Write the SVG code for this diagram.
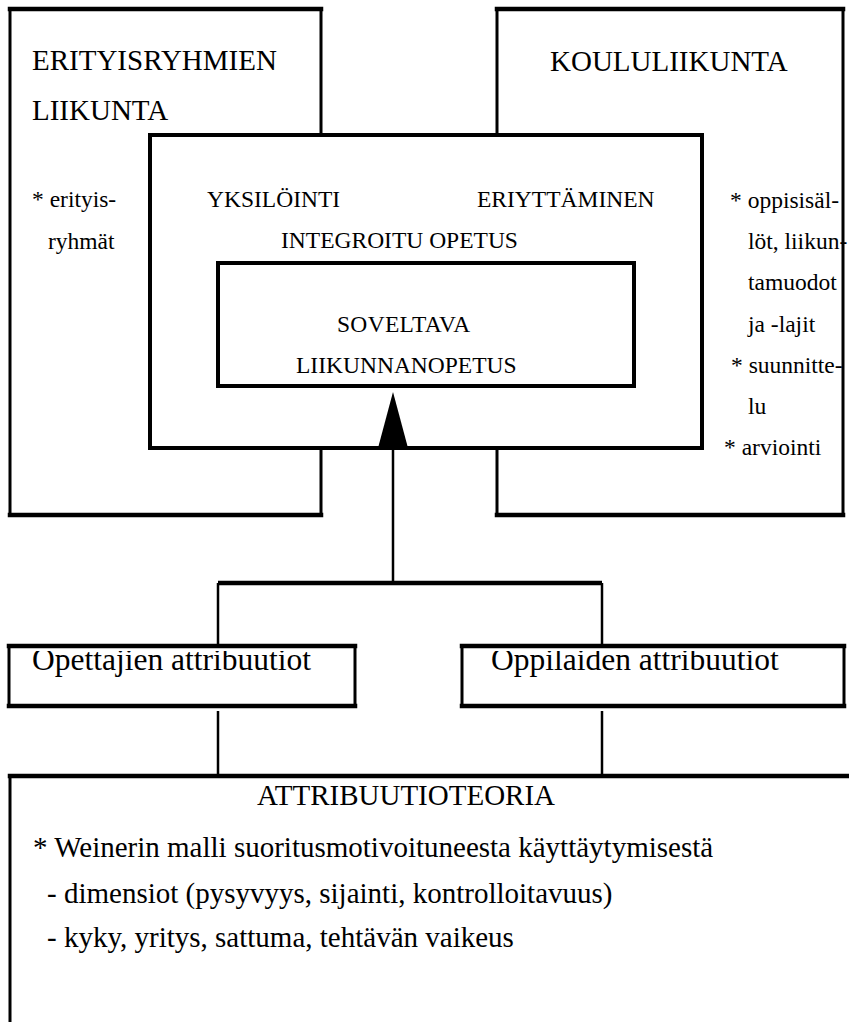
<svg xmlns="http://www.w3.org/2000/svg" width="849" height="1022" viewBox="0 0 849 1022">
<style>
.t{font-family:"Liberation Serif","Times New Roman",serif;fill:#000}
.big{font-size:29px}
.mid{font-size:23.5px}
.att{font-size:31.5px}
.fill{fill:#fff;stroke:none}
.h{stroke:#000;stroke-width:4.5;fill:none;stroke-linecap:square}
.v{stroke:#000;stroke-width:3;fill:none;stroke-linecap:square}
.bx{fill:#fff;stroke:#000;stroke-width:4}
.ln{stroke:#000;stroke-width:2.5;fill:none}
.bar{stroke:#000;stroke-width:4.5;fill:none}
</style>
<defs>
<clipPath id="c1"><rect x="0" y="651" width="849" height="60"/></clipPath>
</defs>
<rect width="849" height="1022" fill="#fff"/>

<g id="erityisryhmien">
<rect class="fill" x="10" y="9" width="311" height="506"/>
<line class="h" x1="10" y1="9" x2="321" y2="9"/>
<line class="h" x1="10" y1="515" x2="321" y2="515"/>
<line class="v" x1="10" y1="9" x2="10" y2="515"/>
<line class="v" x1="321" y1="9" x2="321" y2="515"/>
<text class="t big" x="32" y="70">ERITYISRYHMIEN</text>
<text class="t big" x="32" y="120">LIIKUNTA</text>
<text class="t mid" x="32" y="207">* erityis-</text>
<text class="t mid" x="48" y="249">ryhmät</text>
</g>

<g id="koululiikunta">
<rect class="fill" x="497" y="9" width="346" height="506"/>
<line class="h" x1="497" y1="9" x2="843" y2="9"/>
<line class="h" x1="497" y1="515" x2="843" y2="515"/>
<line class="v" x1="497" y1="9" x2="497" y2="515"/>
<line class="v" x1="843" y1="9" x2="843" y2="515"/>
<text class="t big" x="550" y="71">KOULULIIKUNTA</text>
<text class="t mid" x="730" y="208">* oppisisäl-</text>
<text class="t mid" x="748" y="249">löt, liikun-</text>
<text class="t mid" x="748" y="290">tamuodot</text>
<text class="t mid" x="748" y="332">ja -lajit</text>
<text class="t mid" x="731" y="373">* suunnitte-</text>
<text class="t mid" x="748" y="414">lu</text>
<text class="t mid" x="724" y="455">* arviointi</text>
</g>

<g id="integroitu">
<rect class="bx" x="150" y="135" width="552" height="313"/>
<text class="t mid" x="207" y="207">YKSILÖINTI</text>
<text class="t mid" x="477" y="207">ERIYTTÄMINEN</text>
<text class="t mid" x="281" y="248">INTEGROITU OPETUS</text>
</g>

<g id="soveltava">
<rect class="bx" x="218" y="263" width="416" height="123"/>
<text class="t mid" x="337" y="332" letter-spacing="0.3">SOVELTAVA</text>
<text class="t mid" x="296" y="373">LIIKUNNANOPETUS</text>
</g>

<g id="connectors">
<polygon points="393,392 378,448 408,448" fill="#000"/>
<line class="ln" x1="393" y1="446" x2="393" y2="583"/>
<line class="bar" x1="218" y1="583" x2="602" y2="583"/>
<line class="ln" x1="218" y1="583" x2="218" y2="646"/>
<line class="ln" x1="602" y1="583" x2="602" y2="646"/>
<line class="ln" x1="218" y1="711" x2="218" y2="776"/>
<line class="ln" x1="602" y1="711" x2="602" y2="776"/>
</g>

<g id="opettajien">
<rect class="fill" x="9" y="646" width="346" height="60"/>
<text class="t att" x="32" y="670" clip-path="url(#c1)">Opettajien attribuutiot</text>
<line class="h" x1="9" y1="646" x2="355" y2="646"/>
<line class="h" x1="9" y1="706" x2="355" y2="706"/>
<line class="v" x1="9" y1="646" x2="9" y2="706"/>
<line class="v" x1="355" y1="646" x2="355" y2="706" stroke-width="4"/>
</g>

<g id="oppilaiden">
<rect class="fill" x="462" y="646" width="382" height="60"/>
<text class="t att" x="491" y="670" clip-path="url(#c1)">Oppilaiden attribuutiot</text>
<line class="h" x1="462" y1="646" x2="844" y2="646"/>
<line class="h" x1="462" y1="706" x2="844" y2="706"/>
<line class="v" x1="462" y1="646" x2="462" y2="706" stroke-width="4"/>
<line class="v" x1="844" y1="646" x2="844" y2="706" stroke-width="4"/>
</g>

<g id="attribuutioteoria">
<line class="v" x1="10" y1="776" x2="10" y2="1030"/>
<line class="h" x1="10" y1="776" x2="860" y2="776"/>
<text class="t big" x="257" y="805">ATTRIBUUTIOTEORIA</text>
<text class="t big" x="33" y="857">* Weinerin malli suoritusmotivoituneesta käyttäytymisestä</text>
<text class="t big" x="47" y="903">- dimensiot (pysyvyys, sijainti, kontrolloitavuus)</text>
<text class="t big" x="47" y="947">- kyky, yritys, sattuma, tehtävän vaikeus</text>
</g>
</svg>
